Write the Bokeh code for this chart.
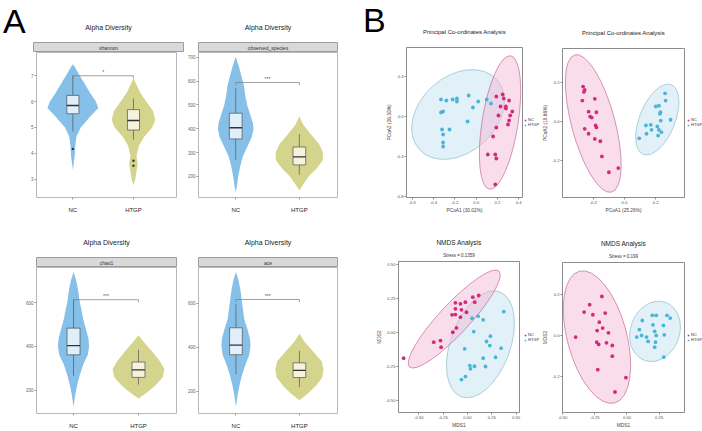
from bokeh.plotting import figure
from bokeh.layouts import row, column
from bokeh.models import (Range1d, FixedTicker, Label, Title, Legend, LegendItem,
                          PrintfTickFormatter, Spacer, Div)
from bokeh.embed import file_html
from bokeh.resources import INLINE
from bokeh.core.properties import value

FONT = "Liberation Sans"
groups = ["NC", "HTGP"]
group_pos = [1, 2]
panel_letters = ["A", "B"]

# ---------------- Panel A: alpha diversity (violin outline: level, half width) ----------
shannon_nc_levels = [3.35, 3.9, 4.3, 4.65, 5.0, 5.4, 5.75, 6.0, 6.35, 6.75, 7.1, 7.35, 7.45]
shannon_nc_halfwidth = [0, 0.03, 0.04, 0.06, 0.13, 0.28, 0.42, 0.38, 0.28, 0.18, 0.09, 0.03, 0]
shannon_htgp_levels = [2.75, 3.0, 3.3, 3.6, 3.9, 4.3, 4.65, 5.0, 5.3, 5.65, 6.0, 6.35, 6.65, 6.9]
shannon_htgp_halfwidth = [0, 0.03, 0.05, 0.07, 0.05, 0.09, 0.18, 0.31, 0.36, 0.32, 0.21, 0.11, 0.05, 0]
shannon_nc_box = [4.84, 5.53, 5.85, 6.24, 7.0]      # low whisker, q1, median, q3, high whisker
shannon_htgp_box = [4.53, 4.90, 5.27, 5.69, 6.12]
shannon_nc_outliers = [4.17]
shannon_htgp_outliers = [3.71, 3.52]
shannon_bracket = 7.0
shannon_sig = "*"
shannon_ticks = [3, 4, 5, 6, 7]

observed_nc_levels = [133, 160, 200, 241, 282, 323, 363, 397, 424, 458, 499, 539, 580, 621, 661, 702]
observed_nc_halfwidth = [0, 0.02, 0.04, 0.07, 0.11, 0.18, 0.25, 0.28, 0.27, 0.23, 0.18, 0.15, 0.13, 0.09, 0.05, 0]
observed_htgp_levels = [140, 174, 200, 235, 269, 302, 336, 377, 418, 452]
observed_htgp_halfwidth = [0, 0.08, 0.15, 0.28, 0.37, 0.37, 0.31, 0.18, 0.06, 0]
observed_nc_box = [269, 357, 404, 465, 570]
observed_htgp_box = [206, 248, 282, 323, 377]
observed_bracket = 594
observed_sig = "***"
observed_ticks = [200, 300, 400, 500, 600, 700]

chao1_nc_levels = [124, 184, 228, 272, 317, 361, 399, 436, 480, 524, 569, 613, 658, 702, 739]
chao1_nc_halfwidth = [0, 0.03, 0.06, 0.10, 0.15, 0.22, 0.24, 0.23, 0.19, 0.15, 0.12, 0.09, 0.07, 0.04, 0]
chao1_htgp_levels = [161, 191, 221, 258, 295, 332, 376, 421, 450]
chao1_htgp_halfwidth = [0, 0.14, 0.26, 0.37, 0.40, 0.33, 0.21, 0.08, 0]
chao1_nc_box = [265, 361, 403, 483, 613]
chao1_htgp_box = [225, 258, 292, 328, 384]
chao1_bracket = 613
chao1_sig = "***"
chao1_ticks = [200, 400, 600]

ace_nc_levels = [129, 188, 232, 277, 321, 366, 408, 440, 484, 529, 573, 618, 662, 707, 744]
ace_nc_halfwidth = [0, 0.03, 0.06, 0.10, 0.15, 0.21, 0.23, 0.22, 0.18, 0.13, 0.11, 0.09, 0.07, 0.04, 0]
ace_htgp_levels = [158, 188, 225, 262, 299, 336, 380, 425, 462]
ace_htgp_halfwidth = [0, 0.13, 0.26, 0.36, 0.38, 0.35, 0.22, 0.08, 0]
ace_nc_box = [277, 366, 410, 489, 596]
ace_htgp_box = [218, 262, 295, 329, 384]
ace_bracket = 618
ace_sig = "***"
ace_ticks = [200, 400, 600]

# ---------------- Panel B: ordinations ----------------
pcoa1_nc_x = [0.19, 0.25, 0.26, 0.31, 0.23, 0.28, 0.28, 0.34, 0.21, 0.32, 0.31, 0.30, 0.19, 0.16, 0.11, 0.18, 0.19, 0.18]
pcoa1_nc_y = [0.20, 0.22, 0.18, 0.16, 0.10, 0.10, 0.08, 0.05, 0.01, 0.01, -0.04, -0.08, -0.11, -0.20, -0.38, -0.38, -0.42, -0.68]
pcoa1_htgp_x = [-0.33, -0.28, -0.22, -0.18, -0.18, -0.07, 0.02, 0.10, 0.14, -0.03, -0.33, -0.31, -0.08, -0.25, -0.32, -0.31, -0.31, -0.31]
pcoa1_htgp_y = [0.17, 0.16, 0.17, 0.18, 0.15, 0.21, 0.15, 0.17, 0.13, 0.09, 0.04, 0.05, -0.05, -0.13, -0.13, -0.18, -0.26, -0.30]
pcoa1_ellipse_nc = [0.225, -0.06, 1.27, 0.36, 81]     # centre x, centre y, width, height, angle
pcoa1_ellipse_htgp = [-0.17, 0.02, 0.98, 0.76, 42]

pcoa2_nc_x = [-0.265, -0.255, -0.26, -0.27, -0.19, -0.23, -0.18, -0.22, -0.21, -0.185, -0.18, -0.255, -0.23, -0.19, -0.155, -0.145, -0.10, -0.04]
pcoa2_nc_y = [0.177, 0.16, 0.15, 0.106, 0.115, 0.05, 0.047, 0.025, 0.02, -0.02, -0.03, -0.037, -0.062, -0.088, -0.10, -0.177, -0.257, -0.236]
pcoa2_htgp_x = [0.26, 0.263, 0.20, 0.22, 0.23, 0.227, 0.295, 0.232, 0.168, 0.137, 0.21, 0.22, 0.173, 0.141, 0.215, 0.236, 0.094]
pcoa2_htgp_y = [0.143, 0.106, 0.076, 0.08, 0.047, 0.039, 0.009, 0.005, -0.017, -0.02, -0.025, -0.042, -0.042, -0.062, -0.071, -0.054, -0.085]
pcoa2_ellipse_nc = [-0.20, -0.01, 0.91, 0.22, 105]
pcoa2_ellipse_htgp = [0.21, 0.01, 0.48, 0.18, 68]

nmds1_nc_x = [-0.657, -0.347, -0.278, -0.271, -0.151, -0.113, -0.158, -0.124, -0.124, -0.124, -0.072, -0.062, -0.072, -0.021, -0.01, 0.055, 0.075, 0.116]
nmds1_nc_y = [-0.189, -0.071, -0.059, -0.108, 0.002, 0.034, 0.13, 0.132, 0.174, 0.218, 0.211, 0.167, 0.113, 0.223, 0.149, 0.26, 0.223, 0.272]
nmds1_htgp_x = [0.374, 0.048, 0.11, 0.162, 0.065, 0.237, 0.196, 0.23, -0.028, 0.347, 0.162, 0.289, 0.024, 0.031, 0.072, 0.186, -0.021, -0.062]
nmds1_htgp_y = [0.154, 0.105, 0.12, 0.093, 0.007, -0.027, -0.066, -0.096, -0.12, -0.115, -0.189, -0.182, -0.243, -0.267, -0.248, -0.25, -0.324, -0.346]
nmds1_ellipse_nc = [-0.136, 0.099, 1.35, 0.22, 47]
nmds1_ellipse_htgp = [0.134, -0.087, 1.15, 0.44, 70]

nmds2_nc_x = [-0.195, -0.29, -0.333, -0.265, -0.169, -0.215, -0.189, -0.232, -0.144, -0.399, -0.235, -0.22, -0.159, -0.114, -0.114, -0.227, -0.008, -0.093]
nmds2_nc_y = [0.19, 0.15, 0.114, 0.101, 0.109, 0.065, 0.036, 0.024, 0.013, -0.008, -0.033, -0.044, -0.036, -0.049, -0.101, -0.167, -0.206, -0.276]
nmds2_htgp_x = [0.197, 0.227, 0.311, 0.336, 0.119, 0.202, 0.283, 0.096, 0.215, 0.227, 0.29, 0.076, 0.114, 0.152, 0.164, 0.222, 0.215, 0.286]
nmds2_htgp_y = [0.098, 0.098, 0.098, 0.085, 0.073, 0.052, 0.049, 0.028, 0.02, 0.0, 0.003, -0.008, 0.0, -0.008, -0.029, -0.033, -0.057, -0.106]
nmds2_ellipse_nc = [-0.233, -0.008, 1.06, 0.29, 105]
nmds2_ellipse_htgp = [0.218, 0.02, 0.48, 0.24, 70]

VIOLIN_COL = {"NC": "#86c0e8", "HTGP": "#d5d48c"}
BOX_COL = {"NC": "#e0eff9", "HTGP": "#f5f3dc"}
PT_COL = {"NC": "#d42a7c", "HTGP": "#4ab5d6"}
ELL_FILL = {"NC": "#f3b3d3", "HTGP": "#bcdfee"}
ELL_LINE = {"NC": "#b9558a", "HTGP": "#80b3c6"}
NAN = float("nan")


def blank_fig(w, h):
    f = figure(width=w, height=h, x_range=Range1d(0, 1), y_range=Range1d(0, 1),
               toolbar_location=None, output_backend="svg", title=None,
               x_axis_location=None, y_axis_location=None,
               min_border_left=0, min_border_right=0, min_border_top=0, min_border_bottom=0,
               outline_line_color=None, background_fill_color="white", border_fill_color="white")
    f.grid.visible = False
    return f


def letter_div(letter, w, h, pad_left, pad_top):
    return Div(text=letter, width=w, height=h,
               styles={"font-family": FONT, "font-size": "34px", "line-height": "34px",
                       "color": "black", "padding-left": f"{pad_left}px",
                       "padding-top": f"{pad_top}px", "margin": "0px", "overflow": "visible"})


def legend_fig(w, h, bottom):
    f = blank_fig(w, h)
    r_nc = f.scatter(x=[NAN], y=[NAN], marker="square", size=3.5, fill_color=PT_COL["NC"], line_color=None)
    r_ht = f.scatter(x=[NAN], y=[NAN], marker="square", size=3.5, fill_color=PT_COL["HTGP"], line_color=None)
    leg = Legend(items=[LegendItem(label=groups[0], renderers=[r_nc]),
                        LegendItem(label=groups[1], renderers=[r_ht])],
                 location=(0, bottom), orientation="vertical", label_text_font=FONT,
                 label_text_font_size="4px", label_text_color="#333333",
                 glyph_width=4, glyph_height=4, label_standoff=1,
                 label_height=4, label_width=6, padding=1, spacing=0, margin=0,
                 border_line_color=None, background_fill_alpha=0)
    f.add_layout(leg)
    return f


def strip_fig(label, w, bl, br):
    s = figure(width=w, height=52, x_range=Range1d(0, 1), y_range=Range1d(0, 1),
               toolbar_location=None, output_backend="svg",
               x_axis_location=None, y_axis_location=None,
               min_border_left=bl, min_border_right=br, min_border_top=42, min_border_bottom=0,
               background_fill_color="#d9d9d9", outline_line_color="#9c9c9c",
               border_fill_color="white", title="Alpha Diversity")
    s.grid.visible = False
    s.title.align = "center"
    s.title.text_font = FONT
    s.title.text_font_size = "7px"
    s.title.text_font_style = "normal"
    s.title.text_color = "#222222"
    s.title.standoff = 23
    s.add_layout(Label(x=0.5, y=0.5, text=label, text_align="center", text_baseline="middle",
                       text_font=FONT, text_font_size="5px", text_color="#333333"))
    return s


def violin_fig(lv_nc, hw_nc, lv_ht, hw_ht, box_nc, box_ht, out_nc, out_ht,
               bracket, sig, yr, yticks, xr, w, h, bl, br, bb):
    m = figure(width=w, height=h, x_range=Range1d(*xr), y_range=Range1d(*yr),
               toolbar_location=None, output_backend="svg", title=None,
               min_border_left=bl, min_border_right=br, min_border_top=0, min_border_bottom=bb,
               outline_line_color="#b8b8b8", background_fill_color="white", border_fill_color="white")
    m.grid.visible = False
    for g, pos, lv, hw, bx, outs in (("NC", group_pos[0], lv_nc, hw_nc, box_nc, out_nc),
                                      ("HTGP", group_pos[1], lv_ht, hw_ht, box_ht, out_ht)):
        xs = [pos + v for v in hw] + [pos - v for v in reversed(hw)]
        ys = list(lv) + list(reversed(lv))
        m.patch(xs, ys, fill_color=VIOLIN_COL[g], line_color=None)
        m.segment(x0=[pos, pos], x1=[pos, pos], y0=[bx[0], bx[3]], y1=[bx[1], bx[4]],
                  line_color="#555555", line_width=0.7)
        m.vbar(x=[pos], width=0.2, bottom=[bx[1]], top=[bx[3]], fill_color=BOX_COL[g],
               line_color="#4f4f4f", line_width=0.7)
        m.segment(x0=[pos - 0.1], x1=[pos + 0.1], y0=[bx[2]], y1=[bx[2]],
                  line_color="#333333", line_width=1.3)
        if outs:
            m.scatter(x=[pos] * len(outs), y=outs, size=2.4, fill_color="#333333", line_color=None)
    tip = (yr[1] - yr[0]) * 0.018
    m.line(x=[group_pos[0], group_pos[0], group_pos[1], group_pos[1]],
           y=[bracket - tip, bracket, bracket, bracket - tip], line_color="#7a7a7a", line_width=0.7)
    m.text(x=[(group_pos[0] + group_pos[1]) / 2], y=[bracket], text=[sig], text_align="center",
           text_baseline="bottom", text_font=value(FONT), text_font_size="5px", text_color="#555555",
           y_offset=-1)
    m.xaxis.ticker = FixedTicker(ticks=group_pos)
    m.xaxis.major_label_overrides = {p: g for p, g in zip(group_pos, groups)}
    m.yaxis.ticker = FixedTicker(ticks=yticks)
    for ax in (m.xaxis, m.yaxis):
        ax.axis_line_color = None
        ax.major_tick_line_color = "#999999"
        ax.major_tick_in = 0
        ax.major_tick_out = 2
        ax.minor_tick_line_color = None
        ax.major_label_text_font = FONT
        ax.major_label_standoff = 1
    m.xaxis.major_label_text_font_size = "6px"
    m.xaxis.major_label_text_color = "#222222"
    m.xaxis.major_label_standoff = 7
    m.yaxis.major_label_text_font_size = "4.5px"
    m.yaxis.major_label_text_color = "#666666"
    return m


def ordination_fig(title, subtitle, xlab, ylab, nc_x, nc_y, ht_x, ht_y, ell_nc, ell_ht,
                   xr, yr, xticks, yticks, xfmt, yfmt, w, h, bl, br, bt, bb):
    p = figure(width=w, height=h, x_range=Range1d(*xr), y_range=Range1d(*yr),
               toolbar_location=None, output_backend="svg",
               min_border_left=bl, min_border_right=br, min_border_top=bt, min_border_bottom=bb,
               outline_line_color="#8c8c8c", background_fill_color="white", border_fill_color="white")
    p.grid.visible = False
    p.title.text = title
    p.title.align = "center"
    p.title.text_font = FONT
    p.title.text_font_style = "normal"
    p.title.text_color = "#222222"
    if subtitle:
        p.title.text_font_size = "6.5px"
        p.title.standoff = 1
        sub = Title(text=subtitle, align="center", text_font=FONT, text_font_size="4.5px",
                    text_font_style="normal", text_color="#333333", standoff=8)
        p.add_layout(sub, "above")
    else:
        p.title.text_font_size = "6px"
        p.title.standoff = 25

    for g, e in (("HTGP", ell_ht), ("NC", ell_nc)):
        p.ellipse(x=[e[0]], y=[e[1]], width=[e[2]], height=[e[3]], angle=[e[4]], angle_units="deg",
                  fill_color=ELL_FILL[g], fill_alpha=0.45, line_color=ELL_LINE[g], line_width=0.6)
    p.scatter(nc_x, nc_y, size=3.8, fill_color=PT_COL["NC"], line_color=None)
    p.scatter(ht_x, ht_y, size=3.8, fill_color=PT_COL["HTGP"], line_color=None)

    p.xaxis.ticker = FixedTicker(ticks=xticks)
    p.yaxis.ticker = FixedTicker(ticks=yticks)
    p.xaxis.formatter = PrintfTickFormatter(format=xfmt)
    p.yaxis.formatter = PrintfTickFormatter(format=yfmt)
    p.xaxis.axis_label = xlab
    p.yaxis.axis_label = ylab
    for ax in (p.xaxis, p.yaxis):
        ax.axis_line_color = None
        ax.major_tick_line_color = "#8c8c8c"
        ax.major_tick_in = 0
        ax.major_tick_out = 2
        ax.minor_tick_line_color = None
        ax.major_label_text_font = FONT
        ax.major_label_text_font_size = "4.2px"
        ax.major_label_text_color = "#555555"
        ax.major_label_standoff = 1
        ax.axis_label_text_font = FONT
        ax.axis_label_text_font_size = "4.8px"
        ax.axis_label_text_font_style = "normal"
        ax.axis_label_text_color = "#444444"
        ax.axis_label_standoff = 1
    return p


# ---- column A-left (x 0..184)
letter_a = letter_div(panel_letters[0], 30, 52, 3, 4)
s_tl = strip_fig("shannon", 154, 3, 1)
m_tl = violin_fig(shannon_nc_levels, shannon_nc_halfwidth, shannon_htgp_levels, shannon_htgp_halfwidth,
                  shannon_nc_box, shannon_htgp_box, shannon_nc_outliers, shannon_htgp_outliers,
                  shannon_bracket, shannon_sig, (2.29, 7.9), shannon_ticks, (0.4, 2.71),
                  184, 163, 33, 1, 13)
s_bl = strip_fig("chao1", 184, 36, 8)
m_bl = violin_fig(chao1_nc_levels, chao1_nc_halfwidth, chao1_htgp_levels, chao1_htgp_halfwidth,
                  chao1_nc_box, chao1_htgp_box, [], [], chao1_bracket, chao1_sig, (93, 760), chao1_ticks,
                  (0.43, 2.585), 184, 164, 36, 8, 14)
col_a1 = column(row(letter_a, s_tl), m_tl, s_bl, m_bl)

# ---- column A-right (x 184..362)
s_tr = strip_fig("observed_species", 178, 11, 25)
m_tr = violin_fig(observed_nc_levels, observed_nc_halfwidth, observed_htgp_levels, observed_htgp_halfwidth,
                  observed_nc_box, observed_htgp_box, [], [], observed_bracket, observed_sig, (111, 720),
                  observed_ticks, (0.415, 2.6), 178, 163, 11, 25, 13)
s_br = strip_fig("ace", 178, 12, 25)
m_br = violin_fig(ace_nc_levels, ace_nc_halfwidth, ace_htgp_levels, ace_htgp_halfwidth,
                  ace_nc_box, ace_htgp_box, [], [], ace_bracket, ace_sig, (98, 764), ace_ticks,
                  (0.41, 2.6), 178, 164, 12, 25, 14)
col_a2 = column(s_tr, m_tr, s_br, m_br)

# ---- column B-left (x 362..540)
letter_b = letter_div(panel_letters[1], 22, 40, 1, 3)
pc1 = ordination_fig("Principal Co-ordinates Analysis", None, "PCoA1 (30.02%)", "PCoA2 (26.30%)",
                     pcoa1_nc_x, pcoa1_nc_y, pcoa1_htgp_x, pcoa1_htgp_y, pcoa1_ellipse_nc, pcoa1_ellipse_htgp,
                     (-0.654, 0.436), (-0.81, 0.69), [-0.6, -0.4, -0.2, 0.0, 0.2, 0.4], [-0.8, -0.4, 0.0, 0.4],
                     "%.1f", "%.1f", 139, 215, 17, 1, 47, 18)
nm1 = ordination_fig("NMDS Analysis", "Stress = 0.1359", "MDS1", "MDS2",
                     nmds1_nc_x, nmds1_nc_y, nmds1_htgp_x, nmds1_htgp_y, nmds1_ellipse_nc, nmds1_ellipse_htgp,
                     (-0.71, 0.536), (-0.588, 0.522), [-0.5, -0.25, 0.0, 0.25, 0.5], [-0.5, -0.25, 0.0, 0.25, 0.5],
                     "%.2f", "%.2f", 161, 216, 36, 4, 46, 19)
col_b1 = column(row(column(letter_b, Spacer(width=22, height=175)), pc1, legend_fig(17, 215, 70)),
                row(nm1, legend_fig(17, 216, 70)))

# ---- column B-right (x 540..702)
pc2 = ordination_fig("Principal Co-ordinates Analysis", None, "PCoA1 (25.26%)", "PCoA2 (15.66%)",
                     pcoa2_nc_x, pcoa2_nc_y, pcoa2_htgp_x, pcoa2_htgp_y, pcoa2_ellipse_nc, pcoa2_ellipse_htgp,
                     (-0.397, 0.384), (-0.385, 0.37), [-0.2, 0.0, 0.2], [-0.2, 0.0, 0.2],
                     "%.1f", "%.1f", 146, 215, 21, 2, 48, 18)
nm2 = ordination_fig("NMDS Analysis", "Stress = 0.199", "MDS1", "MDS2",
                     nmds2_nc_x, nmds2_nc_y, nmds2_htgp_x, nmds2_htgp_y, nmds2_ellipse_nc, nmds2_ellipse_htgp,
                     (-0.501, 0.447), (-0.376, 0.356), [-0.5, -0.25, 0.0, 0.25], [-0.2, 0.0, 0.2],
                     "%.2f", "%.1f", 146, 216, 21, 2, 47, 19)
col_b2 = column(row(pc2, legend_fig(16, 215, 70)), row(nm2, legend_fig(16, 216, 70)))

layout = row(col_a1, col_a2, col_b1, col_b2)

open("out.html", "w").write(file_html(layout, INLINE))
